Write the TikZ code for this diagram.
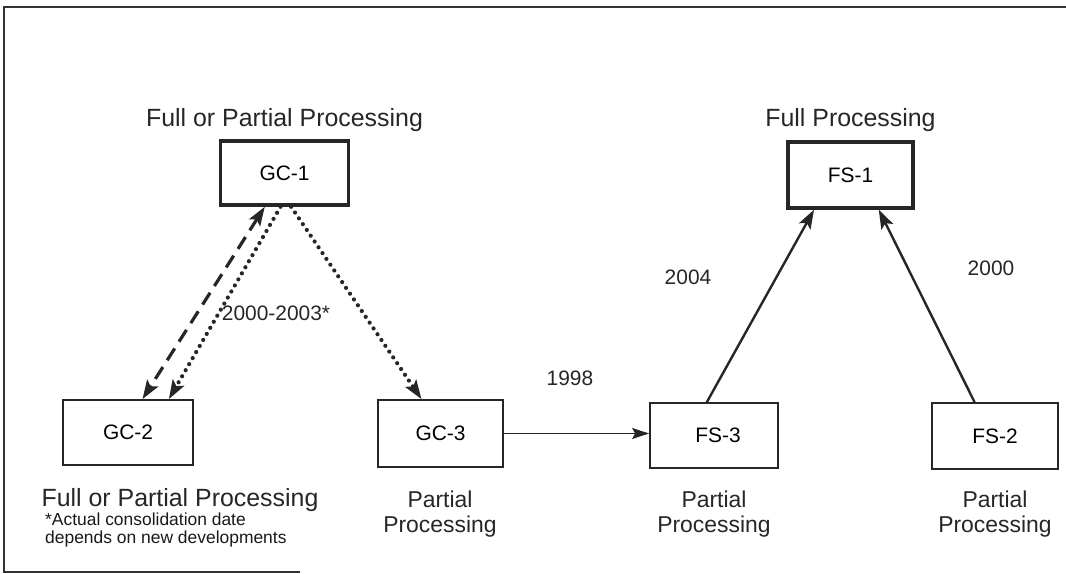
\documentclass[tikz,border=0pt]{standalone}
\usepackage{fontspec}
\setmainfont{Liberation Sans}
\usetikzlibrary{arrows.meta,calc}
\begin{document}
\begin{tikzpicture}[x=1bp,y=-1bp,
  box/.style={draw=black!85, line width=1.8bp, inner sep=0pt,
    font=\fontsize{21}{21}\selectfont},
  thickbox/.style={box, line width=3.5bp},
  title/.style={font=\fontsize{25}{25}\selectfont, anchor=base, inner sep=0pt, text=black!85},
  lbl/.style={font=\fontsize{23}{25}\selectfont, align=center, anchor=base, inner sep=0pt, text=black!85},
  num/.style={font=\fontsize{21}{21}\selectfont, inner sep=0pt, text=black!85},
  tip/.style={-{Stealth[length=19bp,width=13bp,inset=4bp]}},
  conn/.style={line width=2.4bp, draw=black!85, tip},
  dashconn/.style={line width=3.2bp, draw=black!85, dash pattern=on 14bp off 8bp,
    {Stealth[length=19bp,width=13bp,inset=4bp]}-{Stealth[length=19bp,width=13bp,inset=4bp]}},
  dotconn/.style={line width=4.2bp, draw=black!85, line cap=round, dash pattern=on 0bp off 7bp, tip},
  thinconn/.style={line width=1.5bp, draw=black!85, -{Stealth[length=17bp,width=11bp,inset=3bp]}},
  frame/.style={line width=2.2bp, draw=black!80}
]
\useasboundingbox (0,0) rectangle (1066,574);

% frame
\coordinate (f1) at (1066,7);
\coordinate (f2) at (4,7);
\coordinate (f3) at (4,572);
\coordinate (f4) at (300,572);
\draw[frame] (f1) -- (f2) -- (f3) -- (f4);

% boxes
\node[thickbox, minimum width=128bp, minimum height=64bp] (gc1) at (284.5,173) {GC-1};
\node[box, minimum width=130bp, minimum height=65bp] (gc2) at (128,432.5) {\raisebox{-4bp}{GC-2}};
\node[box, minimum width=125bp, minimum height=67bp] (gc3) at (440.5,433.5) {\raisebox{-4bp}{GC-3}};
\node[box, minimum width=128bp, minimum height=65bp] (fs3) at (714,435.5) {\hspace*{8bp}\raisebox{-6bp}{FS-3}};
\node[thickbox, minimum width=125bp, minimum height=66bp] (fs1) at (850.5,175) {\raisebox{-4bp}{FS-1}};
\node[box, minimum width=126bp, minimum height=66bp] (fs2) at (995,436) {\raisebox{-6bp}{FS-2}};

% titles
\node[title] (t1) at (284.5,127) {Full or Partial Processing};
\node[title] (t2) at (850.5,127) {Full Processing};
\node[title] (t3) at (180,506) {Full or Partial Processing};
\node[lbl] (l1) at (440,532) {Partial\\Processing};
\node[lbl] (l2) at (714,532) {Partial\\Processing};
\node[lbl] (l3) at (995,532) {Partial\\Processing};
\node[font=\fontsize{17.5}{18}\selectfont, align=left, anchor=base west, inner sep=0pt, text=black!90] (fn) at (45,543)
  {*Actual consolidation date\\depends on new developments};

% numbers
\node[num] (n1) at (276,313) {2000-2003*};
\node[num] (n2) at (570,378) {1998};
\node[num] (n3) at (688,277) {2004};
\node[num] (n4) at (991,268) {2000};

% connectors
\draw[dashconn] ($(gc1.south west)!0.35!(gc1.south east)$) -- ($(gc2.north west)!0.61!(gc2.north east)$);
\draw[dotconn] ($(gc1.south west)!0.47!(gc1.south east)$) -- ($(gc2.north west)!0.81!(gc2.north east)$);
\draw[dotconn] ($(gc1.south west)!0.55!(gc1.south east)$) -- ($(gc3.north west)!0.35!(gc3.north east)$);
\draw[thinconn] (gc3.east) -- (gc3.east -| fs3.west);
\draw[conn] ($(fs3.north west)!0.445!(fs3.north east)$) -- ($(fs1.south west)!0.216!(fs1.south east)$);
\draw[conn] ($(fs2.north west)!0.34!(fs2.north east)$) -- ($(fs1.south west)!0.72!(fs1.south east)$);
\end{tikzpicture}
\end{document}
